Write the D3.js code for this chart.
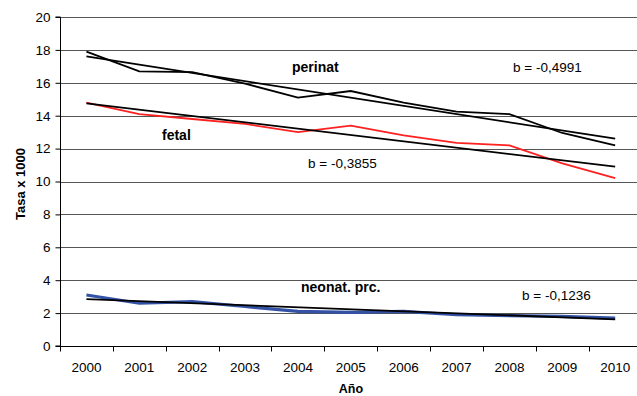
<!DOCTYPE html>
<html><head><meta charset="utf-8">
<script src="https://cdn.jsdelivr.net/npm/d3@7"></script>
<style>body{margin:0;background:#fff}svg{display:block;font-family:"Liberation Sans",Arial,sans-serif}</style>
</head><body><svg id="c" width="637" height="396"></svg>
<script>
const years = ["2000","2001","2002","2003","2004","2005","2006","2007","2008","2009","2010"];
const perinat = [17.9,16.7,16.65,15.95,15.1,15.5,14.8,14.25,14.1,12.95,12.2];
const fetal = [14.8,14.1,13.8,13.5,13.0,13.4,12.8,12.35,12.2,11.1,10.2];
const neonat = [3.1,2.6,2.7,2.4,2.1,2.05,2.1,1.9,1.85,1.8,1.7];
const perinatTrend = [17.6,12.6];
const fetalTrend = [14.75,10.9];
const neonatTrend = [2.85,1.62];
const yTicks = [0,2,4,6,8,10,12,14,16,18,20];

const svg = d3.select("#c");
const L = 60, R = 641.6, T = 17, B = 346;
const x = d3.scaleBand().domain(years).range([L,R]).padding(0);
const y = d3.scaleLinear().domain([0,20]).range([B,T]);
const cx = d => x(d) + x.bandwidth()/2;

// gridlines
svg.append("g").selectAll("line").data(yTicks.filter(t=>t>0)).join("line")
  .attr("x1",L).attr("x2",R).attr("y1",d=>Math.round(y(d))+0.5).attr("y2",d=>Math.round(y(d))+0.5)
  .attr("stroke","#555").attr("stroke-width",1);

// axes
const ya = svg.append("g").attr("transform",`translate(${L+0.5},0)`)
  .call(d3.axisLeft(y).tickValues(yTicks).tickSize(5).tickPadding(5).tickFormat(d3.format("d")));
ya.select(".domain").attr("stroke","#000").attr("d",`M-5,${y(20)}H0V${y(0)}H-5`);
ya.selectAll(".tick line").attr("stroke","#000");
ya.selectAll("text").attr("font-size",13.5).attr("font-family","Liberation Sans, Arial").attr("fill","#000");

const xa = svg.append("g").attr("transform",`translate(0,${Math.round(B)+0.5})`);
xa.append("line").attr("x1",L).attr("x2",R).attr("stroke","#000");
xa.selectAll(".tk").data(d3.range(years.length+1)).join("line")
  .attr("x1",i=>Math.round(L+i*x.bandwidth())+0.5).attr("x2",i=>Math.round(L+i*x.bandwidth())+0.5)
  .attr("y1",0).attr("y2",5).attr("stroke","#000");
xa.selectAll("text").data(years).join("text")
  .attr("x",d=>cx(d)).attr("y",25).attr("text-anchor","middle")
  .attr("font-size",13.5).text(d=>d);

const line = d3.line().x((d,i)=>cx(years[i])).y(d=>y(d));
const tline = t => `M${cx(years[0])},${y(t[0])}L${cx(years[years.length-1])},${y(t[1])}`;

svg.append("path").attr("d",line(neonat)).attr("fill","none").attr("stroke","#3352a6").attr("stroke-width",3.2);
svg.append("path").attr("d",line(fetal)).attr("fill","none").attr("stroke","#ff2020").attr("stroke-width",1.8);
svg.append("path").attr("d",line(perinat)).attr("fill","none").attr("stroke","#000").attr("stroke-width",1.8);
[perinatTrend,fetalTrend,neonatTrend].forEach(t=>
  svg.append("path").attr("d",tline(t)).attr("fill","none").attr("stroke","#000").attr("stroke-width",1.8));

const lab = (tx,xx,yy,bold) => svg.append("text").attr("x",xx).attr("y",yy)
  .attr("font-size",bold?14:13.5).attr("font-weight",bold?"bold":"normal").text(tx);
lab("perinat",292,72,true);
lab("b = -0,4991",513,72,false);
lab("fetal",162,140,true);
lab("b = -0,3855",308,168,false);
lab("neonat. prc.",301,292,true);
lab("b = -0,1236",522,300,false);

svg.append("text").attr("transform","translate(25,184) rotate(-90)").attr("text-anchor","middle")
  .attr("font-size",13).attr("font-weight","bold").text("Tasa x 1000");
svg.append("text").attr("x",351).attr("y",393).attr("text-anchor","middle")
  .attr("font-size",12.5).attr("font-weight","bold").text("Año");
</script></body></html>
